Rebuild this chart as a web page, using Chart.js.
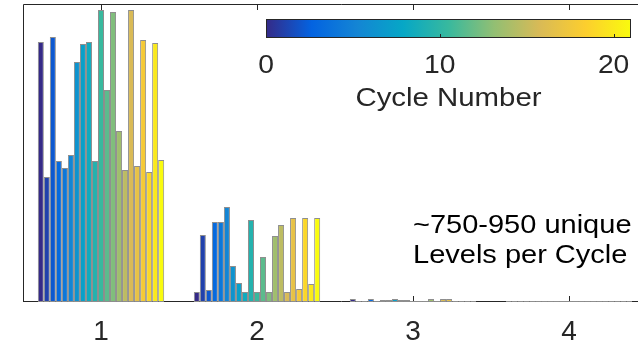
<!DOCTYPE html>
<html>
<head>
<meta charset="utf-8">
<script src="https://cdn.jsdelivr.net/npm/chart.js@4/dist/chart.umd.min.js"></script>
<style>
  html, body { margin: 0; padding: 0; background: #fff; overflow: hidden; }
  #wrap { width: 660px; height: 348px; }
</style>
</head>
<body>
<div id="wrap"><canvas id="chart" width="660" height="348"></canvas></div>
<script>
// categories on the x axis
const categories = ["1", "2", "3", "4"];

// bar heights for cycles 0..20 in each category (arbitrary units, axis 0..298)
const levels1 = [260, 125, 265, 141, 134, 147, 240, 258, 260, 141, 292, 212, 290, 171, 132, 292, 136, 262, 130, 259, 142];
const levels2 = [10, 67, 12, 80, 80, 95, 36, 19, 10, 82, 10, 45, 10, 66, 77, 10, 84, 13, 84, 18, 84];
const levels3 = [3, 1, 1, 3, 1, 2, 2, 3, 2, 2, 1, 1, 1, 3, 1, 3, 3, 1, 1, 1, 1];
const levels4 = [1, 1, 1, 1, 1, 1, 1, 1, 1, 1, 1, 1, 1, 1, 1, 1, 1, 1, 1, 1, 1];

// colorbar
const cycleTicks = [0, 10, 20];
const cycleMax = 21;
const colorbarTitle = "Cycle Number";
const noteLines = ["~750-950 unique", "Levels per Cycle"];

const yMax = 298;

// parula-like colormap anchors
const parulaStops = ["#352a87", "#0363e1", "#1485d4", "#06a7c6", "#38b99e", "#92bf73", "#d9ba56", "#fcce2e", "#f9fb0e"];

function hexToRgb(h) {
  return [parseInt(h.slice(1, 3), 16), parseInt(h.slice(3, 5), 16), parseInt(h.slice(5, 7), 16)];
}

function parula(t) {
  const n = parulaStops.length - 1;
  const p = Math.min(Math.max(t, 0), 1) * n;
  const i = Math.min(Math.floor(p), n - 1);
  const f = p - i;
  const a = hexToRgb(parulaStops[i]);
  const b = hexToRgb(parulaStops[i + 1]);
  const c = a.map((v, k) => Math.round(v + (b[k] - v) * f));
  return `rgb(${c[0]},${c[1]},${c[2]})`;
}

const datasets = levels1.map((_, i) => ({
  label: "Cycle " + i,
  data: [levels1[i], levels2[i], levels3[i], levels4[i]],
  backgroundColor: parula(i / (levels1.length - 1)),
  borderColor: "#8e8e8e",
  borderWidth: 1,
  borderSkipped: false,
  categoryPercentage: 0.81,
  barPercentage: 1
}));

const FONT = "'Liberation Sans', Arial, Helvetica, sans-serif";
const INK = "#262626";

function stretchedText(ctx, text, x, y, size, align, color, sx) {
  ctx.save();
  ctx.font = `${size}px ${FONT}`;
  ctx.fillStyle = color;
  ctx.textAlign = align;
  ctx.textBaseline = "alphabetic";
  ctx.translate(x, y);
  ctx.scale(sx, 1);
  ctx.fillText(text, 0, 0);
  ctx.restore();
}

const framePlugin = {
  id: "frame",
  beforeDatasetsDraw(chart) {
    const { ctx, chartArea } = chart;
    const xs = chart.scales.x;
    ctx.save();
    ctx.strokeStyle = INK;
    ctx.lineWidth = 1;
    ctx.beginPath();
    // left and top borders
    ctx.moveTo(chartArea.left + 0.5, chartArea.bottom);
    ctx.lineTo(chartArea.left + 0.5, chartArea.top + 0.5);
    ctx.lineTo(chart.width, chartArea.top + 0.5);
    // bottom axis
    ctx.moveTo(chartArea.left, chartArea.bottom - 0.5);
    ctx.lineTo(chart.width, chartArea.bottom - 0.5);
    // ticks
    categories.forEach((_, i) => {
      const x = Math.round(xs.getPixelForValue(i)) + 0.5;
      ctx.moveTo(x, chartArea.bottom);
      ctx.lineTo(x, chartArea.bottom - 6);
      ctx.moveTo(x, chartArea.top);
      ctx.lineTo(x, chartArea.top + 6);
    });
    ctx.stroke();
    ctx.restore();
  },
  afterDraw(chart) {
    const { ctx } = chart;
    // colorbar
    const cbL = 266, cbR = 631, cbT = 19, cbB = 38;
    const grad = ctx.createLinearGradient(cbL, 0, cbR, 0);
    parulaStops.forEach((c, i) => grad.addColorStop(i / (parulaStops.length - 1), c));
    ctx.save();
    ctx.fillStyle = grad;
    ctx.fillRect(cbL, cbT, cbR - cbL, cbB - cbT);
    ctx.strokeStyle = INK;
    ctx.lineWidth = 1;
    ctx.strokeRect(cbL + 0.5, cbT + 0.5, cbR - cbL - 1, cbB - cbT - 1);
    ctx.beginPath();
    cycleTicks.forEach(v => {
      const x = Math.round(cbL + (cbR - cbL) * v / cycleMax) + 0.5;
      ctx.moveTo(x, cbB);
      ctx.lineTo(x, cbB - 4);
    });
    ctx.stroke();
    ctx.restore();
    cycleTicks.forEach(v => {
      const x = cbL + (cbR - cbL) * v / cycleMax;
      stretchedText(ctx, String(v), x, 73, 25, "center", INK, 1.13);
    });
    stretchedText(ctx, colorbarTitle, (cbL + cbR) / 2, 106, 26, "center", INK, 1.13);
    // annotation
    stretchedText(ctx, noteLines[0], 413, 233, 25, "left", "#000", 1.16);
    stretchedText(ctx, noteLines[1], 413, 263, 25, "left", "#000", 1.16);
  }
};

new Chart(document.getElementById("chart"), {
  type: "bar",
  data: { labels: categories, datasets: datasets },
  options: {
    responsive: false,
    animation: false,
    layout: { padding: { left: 23, right: 13, top: 4, bottom: 0 } },
    plugins: { legend: { display: false }, tooltip: { enabled: false } },
    scales: {
      x: {
        grid: { display: false, drawTicks: false },
        border: { display: false },
        ticks: { font: { family: FONT, size: 28 }, color: INK, padding: 13 },
        afterFit: s => { s.height = 46; }
      },
      y: { display: false, min: 0, max: yMax }
    }
  },
  plugins: [framePlugin]
});
</script>
</body>
</html>
